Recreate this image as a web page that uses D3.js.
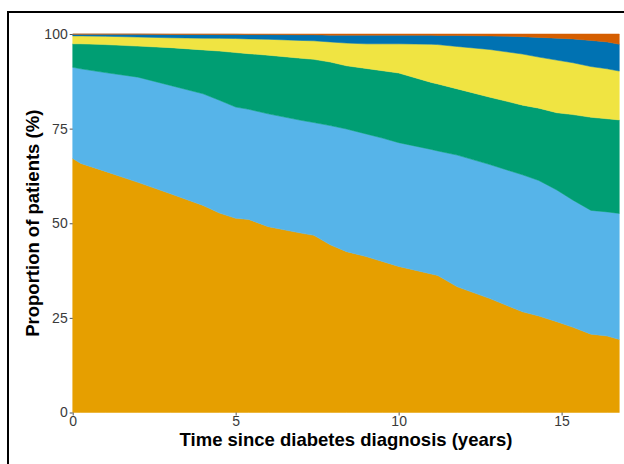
<!DOCTYPE html>
<html>
<head>
<meta charset="utf-8">
<script src="https://cdn.jsdelivr.net/npm/d3@7"></script>
<style>
  body { margin: 0; background: #fff; }
  svg { display: block; font-family: "Liberation Sans", Arial, sans-serif; }
</style>
</head>
<body>
<div id="chart"></div>
<script>
// years since diagnosis
const years = [0, 0.25, 1, 2, 3, 4, 4.5, 5, 5.4, 6, 7, 7.4, 7.9, 8.4, 9, 9.5, 10, 11, 11.2, 11.8, 12.8, 13.8, 14.3, 14.85, 15.35, 15.9, 16.4, 16.77];

// share of patients (%) in each group, bottom to top
const groupA = [67.1, 65.8, 63.7, 60.8, 57.8, 54.7, 52.7, 51.3, 51.0, 49.1, 47.4, 46.8, 44.3, 42.5, 41.2, 39.9, 38.6, 36.6, 36.2, 33.2, 30.1, 26.6, 25.5, 24.0, 22.5, 20.7, 20.2, 19.3];
const groupB = [24.1, 25.0, 26.1, 27.8, 28.6, 29.5, 29.8, 29.4, 29.1, 29.8, 29.8, 29.8, 31.5, 32.4, 32.4, 32.6, 32.7, 32.9, 32.9, 34.8, 35.4, 36.2, 35.8, 34.8, 33.6, 32.7, 32.8, 33.3];
const groupC = [6.2, 6.6, 7.4, 8.2, 10.0, 11.6, 13.0, 14.4, 14.7, 15.5, 16.4, 16.7, 16.8, 16.7, 17.3, 17.8, 18.4, 17.7, 17.7, 17.5, 17.8, 18.4, 19.1, 20.4, 22.6, 24.6, 24.6, 24.7];
const groupD = [2.1, 2.1, 2.2, 2.4, 2.6, 3.1, 3.35, 3.7, 3.9, 4.2, 4.7, 4.9, 5.3, 6.0, 6.5, 7.1, 7.7, 10.1, 10.4, 11.2, 12.6, 13.5, 13.5, 13.9, 13.7, 13.4, 13.2, 12.9];
const groupE = [0.45, 0.45, 0.55, 0.75, 0.9, 1.0, 1.05, 1.1, 1.15, 1.25, 1.5, 1.6, 1.8, 2.1, 2.3, 2.3, 2.3, 2.35, 2.4, 2.9, 3.6, 4.6, 5.2, 5.8, 6.3, 6.9, 7.1, 7.1];
const groupF = [0.05, 0.05, 0.05, 0.05, 0.1, 0.1, 0.1, 0.1, 0.15, 0.15, 0.2, 0.2, 0.3, 0.3, 0.3, 0.3, 0.3, 0.35, 0.4, 0.4, 0.5, 0.7, 0.9, 1.1, 1.3, 1.7, 2.1, 2.7];

const groups = ["A", "B", "C", "D", "E", "F"];
const colors = ["#E69F00", "#56B4E9", "#009E73", "#F0E442", "#0072B2", "#D55E00"];

const xTicks = [0, 5, 10, 15];
const yTicks = [0, 25, 50, 75, 100];

const width = 624, height = 464;

const svg = d3.select("#chart")
  .append("svg")
    .attr("width", width)
    .attr("height", height);

// outer frame
svg.append("rect")
  .attr("x", 8).attr("y", 12)
  .attr("width", 700).attr("height", 600)
  .attr("fill", "none")
  .attr("stroke", "#000")
  .attr("stroke-width", 2);

const x = d3.scaleLinear()
  .domain([0, d3.max(years)])
  .range([72.7, 619.3]);

const y = d3.scaleLinear()
  .domain([0, 100])
  .range([412.5, 34]);

// build rows for the stack
const series = [groupA, groupB, groupC, groupD, groupE, groupF];
const rows = years.map(function(t, i) {
  const r = { t: t };
  groups.forEach(function(g, j) { r[g] = series[j][i]; });
  return r;
});

const stacked = d3.stack().keys(groups)(rows);

const area = d3.area()
  .x(function(d) { return x(d.data.t); })
  .y0(function(d) { return y(d[0]); })
  .y1(function(d) { return y(d[1]); });

svg.append("g")
  .selectAll("path")
  .data(stacked)
  .join("path")
    .attr("d", area)
    .attr("fill", function(d, i) { return colors[i]; })
    .attr("stroke", function(d, i) { return colors[i]; })
    .attr("stroke-width", 0.5);

// axes
const xAxis = svg.append("g")
  .attr("transform", `translate(0, ${y(0)})`)
  .call(d3.axisBottom(x).tickValues(xTicks).tickSize(3).tickPadding(1));

const yAxis = svg.append("g")
  .attr("transform", `translate(${x(0)}, 0)`)
  .call(d3.axisLeft(y).tickValues(yTicks).tickSize(3).tickPadding(2));

[xAxis, yAxis].forEach(function(ax) {
  ax.select(".domain").remove();
  ax.selectAll(".tick line").attr("stroke", "#555");
  ax.selectAll(".tick text")
    .attr("fill", "#3a3a3a")
    .style("font-size", "14px")
    .style("font-family", "Liberation Sans, Arial, sans-serif");
});

// axis titles
svg.append("text")
  .attr("x", (x(0) + x.range()[1]) / 2)
  .attr("y", 446)
  .attr("text-anchor", "middle")
  .style("font-size", "18.5px")
  .style("font-weight", "bold")
  .text("Time since diabetes diagnosis (years)");

svg.append("text")
  .attr("transform", `translate(39, ${(y(0) + y(100)) / 2}) rotate(-90)`)
  .attr("text-anchor", "middle")
  .style("font-size", "18.5px")
  .style("font-weight", "bold")
  .text("Proportion of patients (%)");
</script>
</body>
</html>
